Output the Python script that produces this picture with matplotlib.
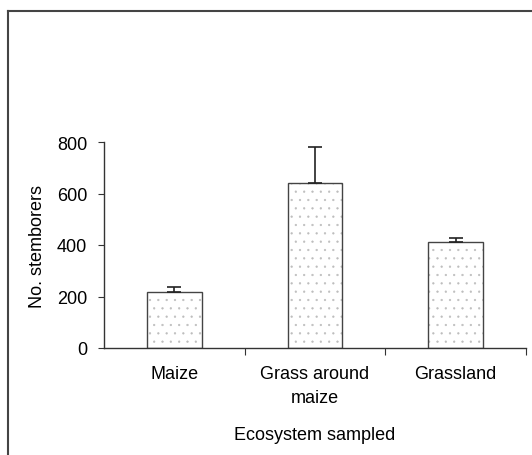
import matplotlib
matplotlib.use("Agg")
import matplotlib.pyplot as plt
from matplotlib.lines import Line2D

# values
ecosystems = ["Maize", "Grass around\nmaize", "Grassland"]
stemborers = [219, 642, 413]
err_upper = [18, 140, 13]
y_ticks = [0, 200, 400, 600, 800]

plt.rcParams['font.family'] = ['Liberation Sans', 'DejaVu Sans']
plt.rcParams['font.size'] = 13
plt.rcParams['hatch.linewidth'] = 0.4

fig = plt.figure(figsize=(5.32, 4.56), dpi=100)
ax = fig.add_axes([104 / 532, 107 / 456, 422 / 532, 206 / 456])

x = list(range(len(ecosystems)))
# stipple fill first, then the outline on top
ax.bar(x, stemborers, width=0.39, color='white', edgecolor='#bdbdbd',
       linewidth=0, hatch='..', zorder=2)
ax.bar(x, stemborers, width=0.39, fill=False, edgecolor='#444444',
       linewidth=1.0, zorder=2.5)
ax.errorbar(x, stemborers, yerr=[[0] * len(x), err_upper], fmt='none',
            ecolor='#222222', elinewidth=1.2, capsize=5, capthick=1.2, zorder=3)

ax.set_xlim(-0.5, 2.5)
ax.set_ylim(0, 800)
ax.set_yticks(y_ticks)
ax.set_xticks([0.5, 1.5, 2.5])
ax.set_xticks(x, minor=True)
ax.set_xticklabels([])
ax.set_xticklabels(ecosystems, minor=True, linespacing=1.6)
ax.tick_params(axis='x', which='minor', length=0, pad=12)
ax.tick_params(axis='x', which='major', length=5, direction='out', color='#333333')
ax.tick_params(axis='y', length=4, direction='out', color='#333333', pad=8)

for s in ['top', 'right']:
    ax.spines[s].set_visible(False)
for s in ['left', 'bottom']:
    ax.spines[s].set_color('#333333')
    ax.spines[s].set_linewidth(1.0)

ax.set_ylabel("No. stemborers", labelpad=8)
ax.set_xlabel("Ecosystem sampled", labelpad=14)

# frame left over from the scan (left and top edges)
fig.add_artist(Line2D([8 / 532, 8 / 532], [0, 1 - 12 / 456], color='#444444', lw=1.5))
fig.add_artist(Line2D([8 / 532, 1], [1 - 12 / 456, 1 - 12 / 456], color='#444444', lw=1.5))

fig.savefig("out.png", dpi=100)
